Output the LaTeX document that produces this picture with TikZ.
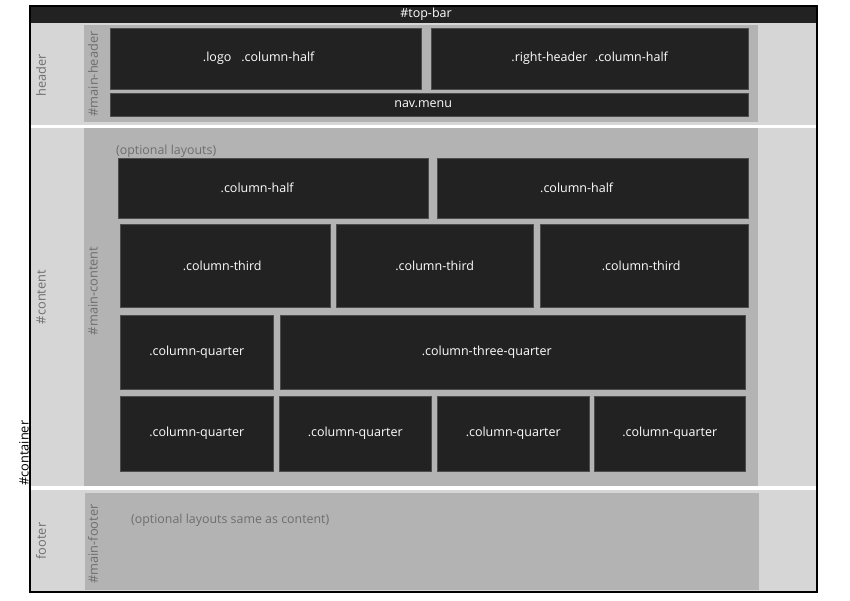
\documentclass[tikz,border=0pt]{standalone}
\usepackage{fontspec}
\setmainfont{Open Sans}
\definecolor{darkbox}{HTML}{222222}
\definecolor{midgray}{HTML}{B3B3B3}
\definecolor{lightgray}{HTML}{D6D6D6}
\definecolor{labelgray}{HTML}{6E6E6E}
\newcommand{\shl}[2]{#2\hspace*{#1}}
\begin{document}
\begin{tikzpicture}[x=1pt,y=-1pt,
  dbox/.style={fill=darkbox,draw=black!70,line width=0.4pt,inner sep=0pt,anchor=north west,text=white,font=\fontsize{12.5}{14}\selectfont},
  sidelabel/.style={rotate=90,text=labelgray,font=\fontsize{12.8}{14}\selectfont,inner sep=0pt},
  note/.style={text=labelgray,font=\fontsize{12.4}{14}\selectfont,inner sep=0pt,anchor=west}]
\useasboundingbox (0,0) rectangle (850,600);
% container
\fill[lightgray] (30,6) rectangle (817,592);
\fill[white] (30,125) rectangle (817,128);
\fill[white] (30,486) rectangle (817,490);
% top bar
\node[dbox,minimum width=787,minimum height=17,draw=none] (topbar) at (30,6) {};
\node[text=white,font=\fontsize{12.5}{14}\selectfont,inner sep=0pt] (topbartxt) at (426,14.5) {\#top-bar};
% main areas
\fill[midgray] (84,25) rectangle (758,122);
\fill[midgray] (84,128) rectangle (758,486);
\fill[midgray] (85,493) rectangle (759,590);
% header boxes
\node[dbox,minimum width=311,minimum height=61] (logo) at (110,28) {\raisebox{1.5pt}{\shl{14pt}{.logo\hspace{0.8em}.column-half}}};
\node[dbox,minimum width=317,minimum height=61] (rheader) at (431,28) {\raisebox{1.5pt}{.right-header\hspace{0.6em}.column-half}};
\node[dbox,minimum width=638,minimum height=23] (nav) at (110,93) {\raisebox{1.5pt}{\shl{12pt}{nav.menu}}};
% content row 1
\node[note] (opt) at (116,151) {(optional layouts)};
\node[dbox,minimum width=310,minimum height=60] (h1) at (118,158) {\shl{32pt}{.column-half}};
\node[dbox,minimum width=311,minimum height=60] (h2) at (437,158) {\shl{32pt}{.column-half}};
% row 2
\node[dbox,minimum width=210,minimum height=83] (t1) at (120,224) {\raisebox{-2.5pt}{\shl{6pt}{.column-third}}};
\node[dbox,minimum width=197,minimum height=83] (t2) at (336,224) {\raisebox{-2.5pt}{.column-third}};
\node[dbox,minimum width=208,minimum height=83] (t3) at (540,224) {\raisebox{-2.5pt}{\shl{6pt}{.column-third}}};
% row 3
\node[dbox,minimum width=153,minimum height=74] (q0) at (120,315) {\raisebox{2pt}{.column-quarter}};
\node[dbox,minimum width=465,minimum height=74] (tq) at (280,315) {\raisebox{-1pt}{\shl{52pt}{.column-three-quarter}}};
% row 4
\node[dbox,minimum width=153,minimum height=75] (q1) at (120,396) {.column-quarter};
\node[dbox,minimum width=152,minimum height=75] (q2) at (279,396) {.column-quarter};
\node[dbox,minimum width=152,minimum height=75] (q3) at (437,396) {.column-quarter};
\node[dbox,minimum width=151,minimum height=75] (q4) at (594,396) {.column-quarter};
% footer note
\node[note] (optf) at (131,520) {(optional layouts same as content)};
% side labels
\node[sidelabel] (lheader) at (41,75) {header};
\node[sidelabel] (lcontent) at (41,297) {\#content};
\node[sidelabel] (lfooter) at (41,541) {footer};
\node[sidelabel] (lmheader) at (93,74) {\#main-header};
\node[sidelabel] (lmcontent) at (93,291) {\#main-content};
\node[sidelabel] (lmfooter) at (93,544) {\#main-footer};
\node[sidelabel,text=black,anchor=west] (lcontainer) at (24,486) {\#container};
% outer border
\draw[black,line width=1.3pt] (30,6) rectangle (817,592);
\end{tikzpicture}
\end{document}
